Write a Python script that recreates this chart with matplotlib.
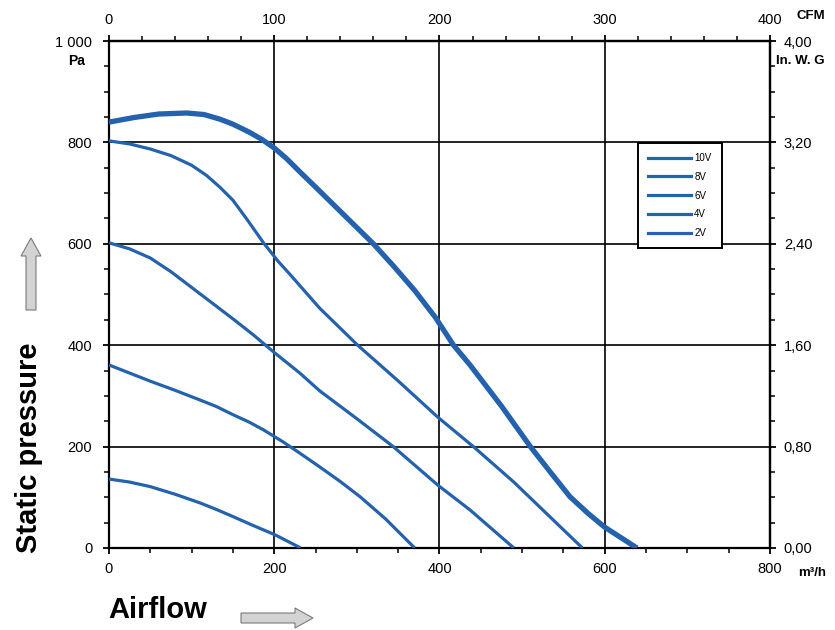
import matplotlib
matplotlib.use('Agg')
import matplotlib.pyplot as plt
from matplotlib.lines import Line2D
from matplotlib.patches import FancyArrow
from matplotlib.ticker import MultipleLocator, FuncFormatter

plt.rcParams['font.family'] = ['Liberation Sans', 'DejaVu Sans']

# fan curves: airflow (m3/h) vs static pressure (Pa)
q_10v = [0, 30, 60, 94, 115, 134, 150, 170, 185, 200, 215, 231, 250, 270, 295, 320, 345, 370,
         395, 417, 437, 475, 510, 535, 558, 580, 600, 620, 639]
p_10v = [840, 849, 856, 858, 855, 846, 836, 820, 806, 789, 768, 742, 712, 680, 640, 600, 555, 508,
         455, 400, 361, 280, 200, 148, 101, 68, 41, 20, 0]

q_8v = [0, 25, 50, 75, 100, 118, 134, 150, 168, 187, 205, 220, 255, 301, 349, 398, 441,
        490, 534, 573]
p_8v = [803, 797, 787, 774, 755, 735, 712, 686, 646, 602, 565, 538, 473, 400, 331, 258, 200,
        130, 61, 0]

q_6v = [0, 25, 50, 75, 100, 125, 150, 175, 199, 231, 255, 300, 344, 398, 437, 490]
p_6v = [602, 590, 572, 545, 514, 483, 452, 420, 387, 345, 310, 255, 200, 124, 75, 0]

q_4v = [0, 25, 50, 80, 110, 130, 150, 170, 187, 210, 231, 255, 280, 304, 335, 370]
p_4v = [361, 345, 329, 311, 292, 279, 263, 248, 233, 210, 187, 160, 131, 101, 57, 0]

q_2v = [0, 25, 50, 80, 110, 130, 150, 175, 201, 232]
p_2v = [136, 130, 121, 106, 89, 76, 62, 44, 26, 0]

series = [('10V', q_10v, p_10v, 3.8), ('8V', q_8v, p_8v, 2.3), ('6V', q_6v, p_6v, 2.3),
          ('4V', q_4v, p_4v, 2.3), ('2V', q_2v, p_2v, 2.3)]

blue = '#2462ad'

fig = plt.figure(figsize=(8.35, 6.3), dpi=100)
ax = fig.add_axes([0.1305, 0.1302, 0.7916, 0.8047])

for name, q, p, lw in series:
    ax.plot(q, p, color=blue, lw=lw, solid_capstyle='butt', solid_joinstyle='round', zorder=3)

ax.set_xlim(0, 800)
ax.set_ylim(0, 1000)
ax.xaxis.set_major_locator(MultipleLocator(200))
ax.xaxis.set_minor_locator(MultipleLocator(50))
ax.yaxis.set_major_locator(MultipleLocator(200))
ax.yaxis.set_minor_locator(MultipleLocator(50))
ax.yaxis.set_major_formatter(FuncFormatter(lambda v, pos: f'{int(v):,}'.replace(',', ' ')))
ax.grid(which='major', color='black', lw=1.2)
for s in ax.spines.values():
    s.set_linewidth(1.6)
ax.tick_params(which='major', length=4, width=1.3, labelsize=10.5, pad=6)
ax.tick_params(which='minor', length=3.5, width=1.1)
ax.tick_params(axis='y', pad=8)

top = ax.secondary_xaxis('top', functions=(lambda x: x / 2, lambda x: x * 2))
top.xaxis.set_major_locator(MultipleLocator(100))
top.xaxis.set_minor_locator(MultipleLocator(20))
top.tick_params(which='major', length=4, width=1.3, labelsize=10.5, pad=6)
top.tick_params(which='minor', length=3.5, width=1.1)
top.spines['top'].set_linewidth(1.6)

right = ax.secondary_yaxis('right', functions=(lambda y: y / 250, lambda y: y * 250))
right.yaxis.set_major_locator(MultipleLocator(0.8))
right.yaxis.set_minor_locator(MultipleLocator(0.2))
right.yaxis.set_major_formatter(FuncFormatter(lambda v, pos: f'{v:.2f}'.replace('.', ',')))
right.tick_params(which='major', length=4, width=1.3, labelsize=10.5, pad=6)
right.tick_params(which='minor', length=3.5, width=1.1)
right.spines['right'].set_linewidth(1.6)

handles = [Line2D([], [], color=blue, lw=2.3) for _ in series]
leg = ax.legend(handles, [s[0] for s in series], loc='upper left',
                bbox_to_anchor=(0.800, 0.799), fontsize=7, frameon=True,
                fancybox=False, edgecolor='black', framealpha=1,
                handlelength=4.4, handletextpad=0.35, labelspacing=0.9,
                borderpad=1.05, borderaxespad=0)
leg.get_frame().set_linewidth(1.4)
leg.set_zorder(5)

# unit labels
fig.text(77 / 835, 1 - 61 / 630, 'Pa', fontsize=10, fontweight='bold', ha='center', va='center')
fig.text(776 / 835, 1 - 61 / 630, 'In. W. G', fontsize=9.5, fontweight='bold', ha='left', va='center')
fig.text(811 / 835, 1 - 16 / 630, 'CFM', fontsize=9.5, fontweight='bold', ha='center', va='center')
fig.text(812 / 835, 1 - 573 / 630, 'm³/h', fontsize=9.5, fontweight='bold', ha='center', va='center')

fig.text(29 / 835, 1 - 448 / 630, 'Static pressure', fontsize=21, fontweight='bold',
         rotation=90, ha='center', va='center')
fig.text(108 / 835, 1 - 610 / 630, 'Airflow', fontsize=21, fontweight='bold',
         ha='left', va='center')

# grey arrows beside the axis titles
arrow_kw = dict(width=0.10, head_width=0.20, head_length=0.18, length_includes_head=True,
                facecolor='#d3d3d3', edgecolor='#7a7a7a', lw=0.8,
                transform=fig.dpi_scale_trans)
fig.add_artist(FancyArrow(0.31, 3.20, 0, 0.72, **arrow_kw))
fig.add_artist(FancyArrow(2.41, 0.12, 0.72, 0, **arrow_kw))

fig.savefig('out.png', dpi=100)
